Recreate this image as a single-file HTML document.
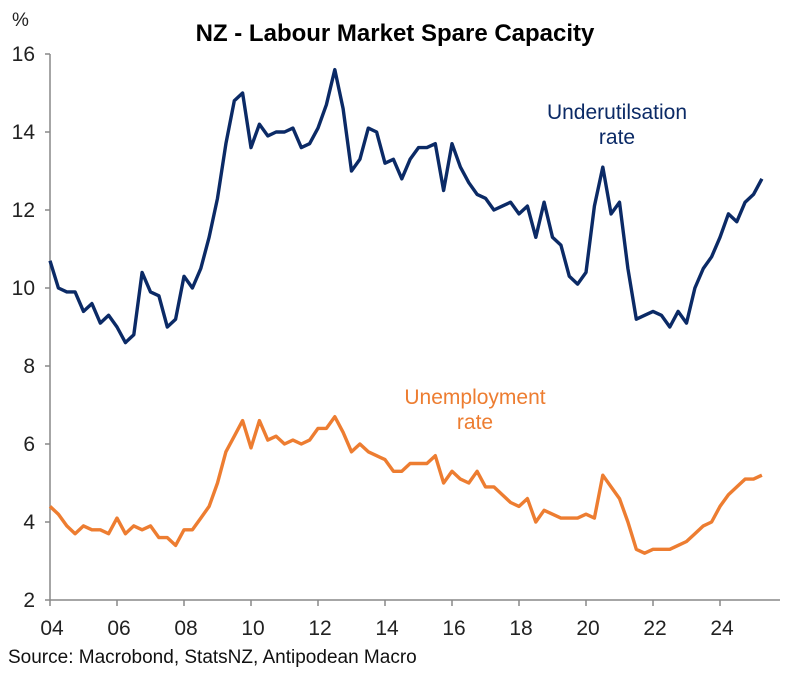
<!DOCTYPE html>
<html><head><meta charset="utf-8"><style>
body{margin:0;background:#fff;font-family:"Liberation Sans",Arial,sans-serif}
</style></head><body>
<svg id="chart" width="789" height="669" xmlns="http://www.w3.org/2000/svg" font-family="Liberation Sans, Arial, sans-serif">
<text x="395" y="41" text-anchor="middle" font-size="24" font-weight="bold" fill="#000">NZ - Labour Market Spare Capacity</text>
<text x="12" y="26" font-size="19" fill="#222">%</text>
<g id="axes"></g>
<g id="series"></g>
<text x="617" y="119" text-anchor="middle" font-size="21" fill="#0B2A66">Underutilsation</text>
<text x="617" y="144" text-anchor="middle" font-size="21" fill="#0B2A66">rate</text>
<text x="475" y="404" text-anchor="middle" font-size="21" fill="#ED7D31">Unemployment</text>
<text x="475" y="429" text-anchor="middle" font-size="21" fill="#ED7D31">rate</text>
<text x="8" y="663" font-size="19" fill="#111">Source: Macrobond, StatsNZ, Antipodean Macro</text>
</svg>
<script>
const yTicks=[2,4,6,8,10,12,14,16];
const xTickLabels=["04","06","08","10","12","14","16","18","20","22","24"];
const xTickYears=[2004,2006,2008,2010,2012,2014,2016,2018,2020,2022,2024];
const startYear=2004;
const underutilisation=[10.7,10.0,9.9,9.9,9.4,9.6,9.1,9.3,9.0,8.6,8.8,10.4,9.9,9.8,9.0,9.2,10.3,10.0,10.5,11.3,12.3,13.7,14.8,15.0,13.6,14.2,13.9,14.0,14.0,14.1,13.6,13.7,14.1,14.7,15.6,14.6,13.0,13.3,14.1,14.0,13.2,13.3,12.8,13.3,13.6,13.6,13.7,12.5,13.7,13.1,12.7,12.4,12.3,12.0,12.1,12.2,11.9,12.1,11.3,12.2,11.3,11.1,10.3,10.1,10.4,12.1,13.1,11.9,12.2,10.5,9.2,9.3,9.4,9.3,9.0,9.4,9.1,10.0,10.5,10.8,11.3,11.9,11.7,12.2,12.4,12.8];
const unemployment=[4.4,4.2,3.9,3.7,3.9,3.8,3.8,3.7,4.1,3.7,3.9,3.8,3.9,3.6,3.6,3.4,3.8,3.8,4.1,4.4,5.0,5.8,6.2,6.6,5.9,6.6,6.1,6.2,6.0,6.1,6.0,6.1,6.4,6.4,6.7,6.3,5.8,6.0,5.8,5.7,5.6,5.3,5.3,5.5,5.5,5.5,5.7,5.0,5.3,5.1,5.0,5.3,4.9,4.9,4.7,4.5,4.4,4.6,4.0,4.3,4.2,4.1,4.1,4.1,4.2,4.1,5.2,4.9,4.6,4.0,3.3,3.2,3.3,3.3,3.3,3.4,3.5,3.7,3.9,4.0,4.4,4.7,4.9,5.1,5.1,5.2];
const NS="http://www.w3.org/2000/svg";
const X0=50,PXY=33.5,Y0=600,PXU=39;
const xs=t=>X0+(t-startYear)*PXY;
const ys=v=>Y0-(v-2)*PXU;
function mk(tag,attrs,parent){const e=document.createElementNS(NS,tag);for(const k in attrs)e.setAttribute(k,attrs[k]);parent.appendChild(e);return e;}
const axes=document.getElementById('axes');
const yAxis=mk('line',{x1:X0,y1:ys(16),x2:X0,y2:Y0,stroke:'#888','stroke-width':1.5},axes);


const xAxis=mk('line',{x1:X0,y1:Y0,x2:780,y2:Y0,stroke:'#888','stroke-width':1.5},axes);


yTicks.forEach(v=>{
  const t=mk('line',{x1:X0-5,y1:ys(v),x2:X0,y2:ys(v),stroke:'#888','stroke-width':1.5},axes);
  
  
  const l=mk('text',{x:35,y:ys(v)+7,'text-anchor':'end','font-size':21,fill:'#222'},axes);
  l.textContent=v;
  
  
});
xTickYears.forEach((yr,i)=>{
  const t=mk('line',{x1:xs(yr),y1:Y0,x2:xs(yr),y2:Y0+6,stroke:'#888','stroke-width':1.5},axes);
  
  
  const l=mk('text',{x:xs(yr)+2,y:Y0+35,'text-anchor':'middle','font-size':21,fill:'#222'},axes);
  l.textContent=xTickLabels[i];
  
  
});
const series=document.getElementById('series');
function line(data,color,name){
  const d=data.map((v,i)=>(i?'L':'M')+xs(startYear+i/4).toFixed(1)+','+ys(v).toFixed(1)).join(' ');
  const p=mk('path',{d:d,fill:'none',stroke:color,'stroke-width':3.4,'stroke-linejoin':'round'},series);
  
  
}
line(underutilisation,'#0B2A66','underutilisation-line');
line(unemployment,'#ED7D31','unemployment-line');
</script>
</body></html>
